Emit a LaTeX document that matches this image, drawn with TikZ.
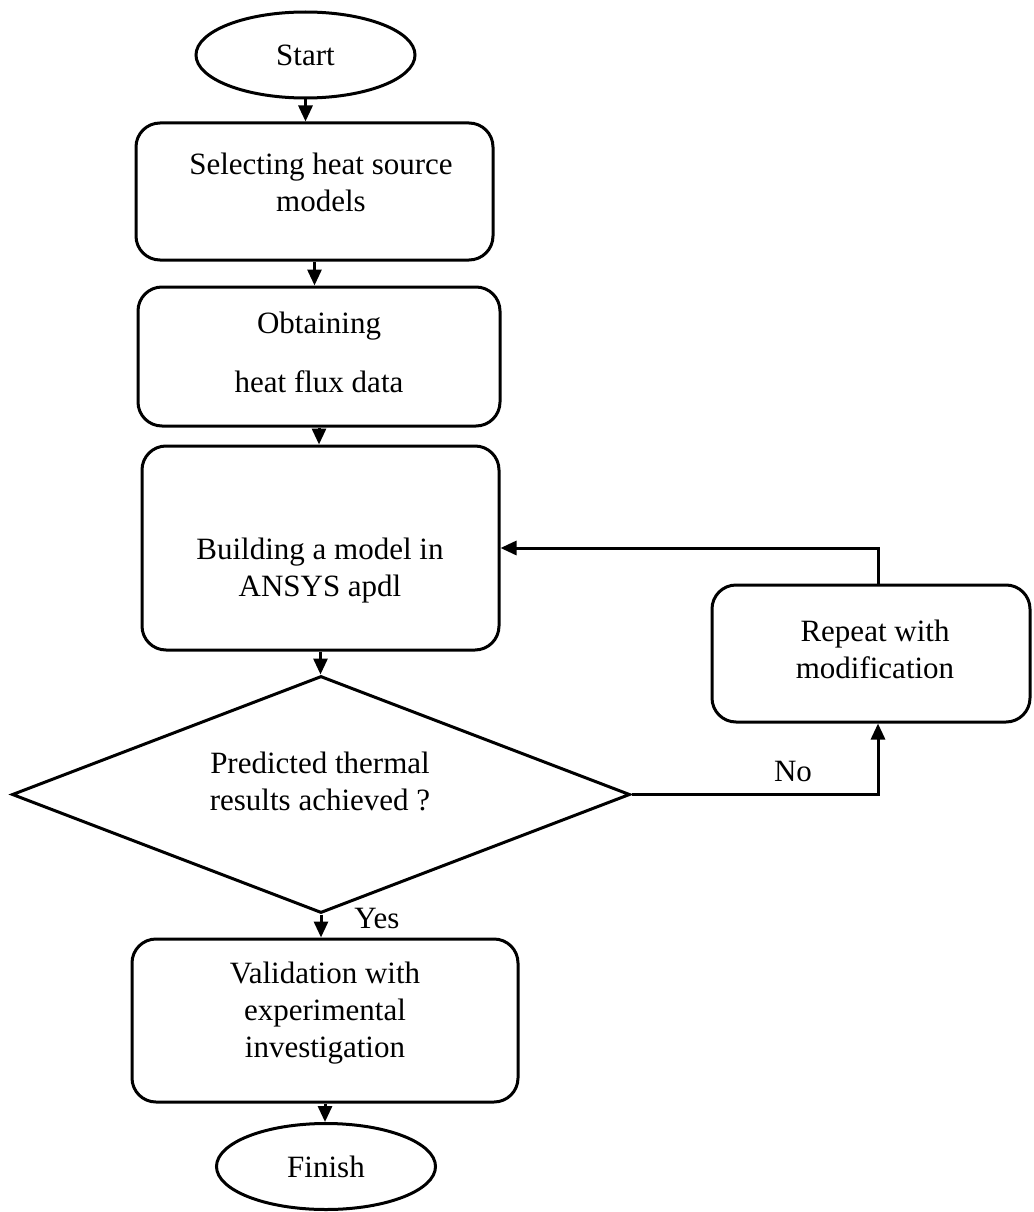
\documentclass[tikz,border=0pt]{standalone}
\usepackage{fontspec}
\setmainfont{Liberation Serif}
\usetikzlibrary{shapes.geometric,arrows.meta,calc}
\newcommand\fsz{\fontsize{31}{37}\selectfont}
\tikzset{
  box/.style={draw, rounded corners=24pt, line width=3pt, inner sep=0pt},
  term/.style={draw, ellipse, line width=3pt, minimum width=219pt, minimum height=86pt, inner sep=0pt, font=\fsz},
  dia/.style={draw, diamond, line width=3pt, minimum width=618pt, minimum height=237pt, inner sep=0pt},
  txt/.style={align=center, font=\fsz, inner sep=0pt},
  arr/.style={-{Triangle[length=16pt,width=14pt]}, line width=3pt},
  ln/.style={line width=3pt}
}
\begin{document}
\begin{tikzpicture}[x=1pt,y=-1pt]
\useasboundingbox (0,0) rectangle (1033,1212);
\node[term] (start) at (305.5,55) {Start};
\node[box, minimum width=357pt, minimum height=137pt] (b1) at (314.5,191.5) {};
\node[txt] (b1t) at (321,182) {Selecting heat source\\models};
\node[box, minimum width=362pt, minimum height=139pt] (b2) at (319,356.5) {};
\node[txt] (b2t) at (319,352) {Obtaining\\[22pt]heat flux data};
\node[box, minimum width=357pt, minimum height=204pt] (b3) at (320.5,548) {};
\node[txt] (b3t) at (320,571) {Building a model in\\ANSYS apdl};
\node[dia] (d) at (321,794.5) {};
\node[txt] (dt) at (320,781) {Predicted thermal\\results achieved ?};
\node[box, minimum width=318pt, minimum height=137pt] (rep) at (871,653.5) {};
\node[txt] (rept) at (875,649) {Repeat with\\modification};
\node[box, minimum width=386pt, minimum height=163pt] (b4) at (325,1020.5) {};
\node[txt] (b4t) at (325,1013) {Validation with\\experimental\\investigation};
\node[term] (fin) at (326,1166.5) {Finish};
\node[txt] (no) at (793,771) {No};
\node[txt] (yes) at (377,918) {Yes};
\coordinate (loopx) at (878,0);
\draw[arr] (start.south) -- (start.south |- b1.north);
\draw[arr] (b1.south) -- (b1.south |- b2.north);
\draw[arr] (b2.south) -- (b2.south |- b3.north);
\draw[arr] (b3.south) -- (b3.south |- d.north);
\draw[arr] (d.south) -- (d.south |- b4.north);
\draw[arr] (b4.south) -- (b4.south |- fin.north);
\draw[arr] (d.east) -- (d.east -| loopx) -- (loopx |- rep.south);
\draw[arr] (loopx |- rep.north) -- (loopx |- b3.east) -- (b3.east);
\end{tikzpicture}
\end{document}
